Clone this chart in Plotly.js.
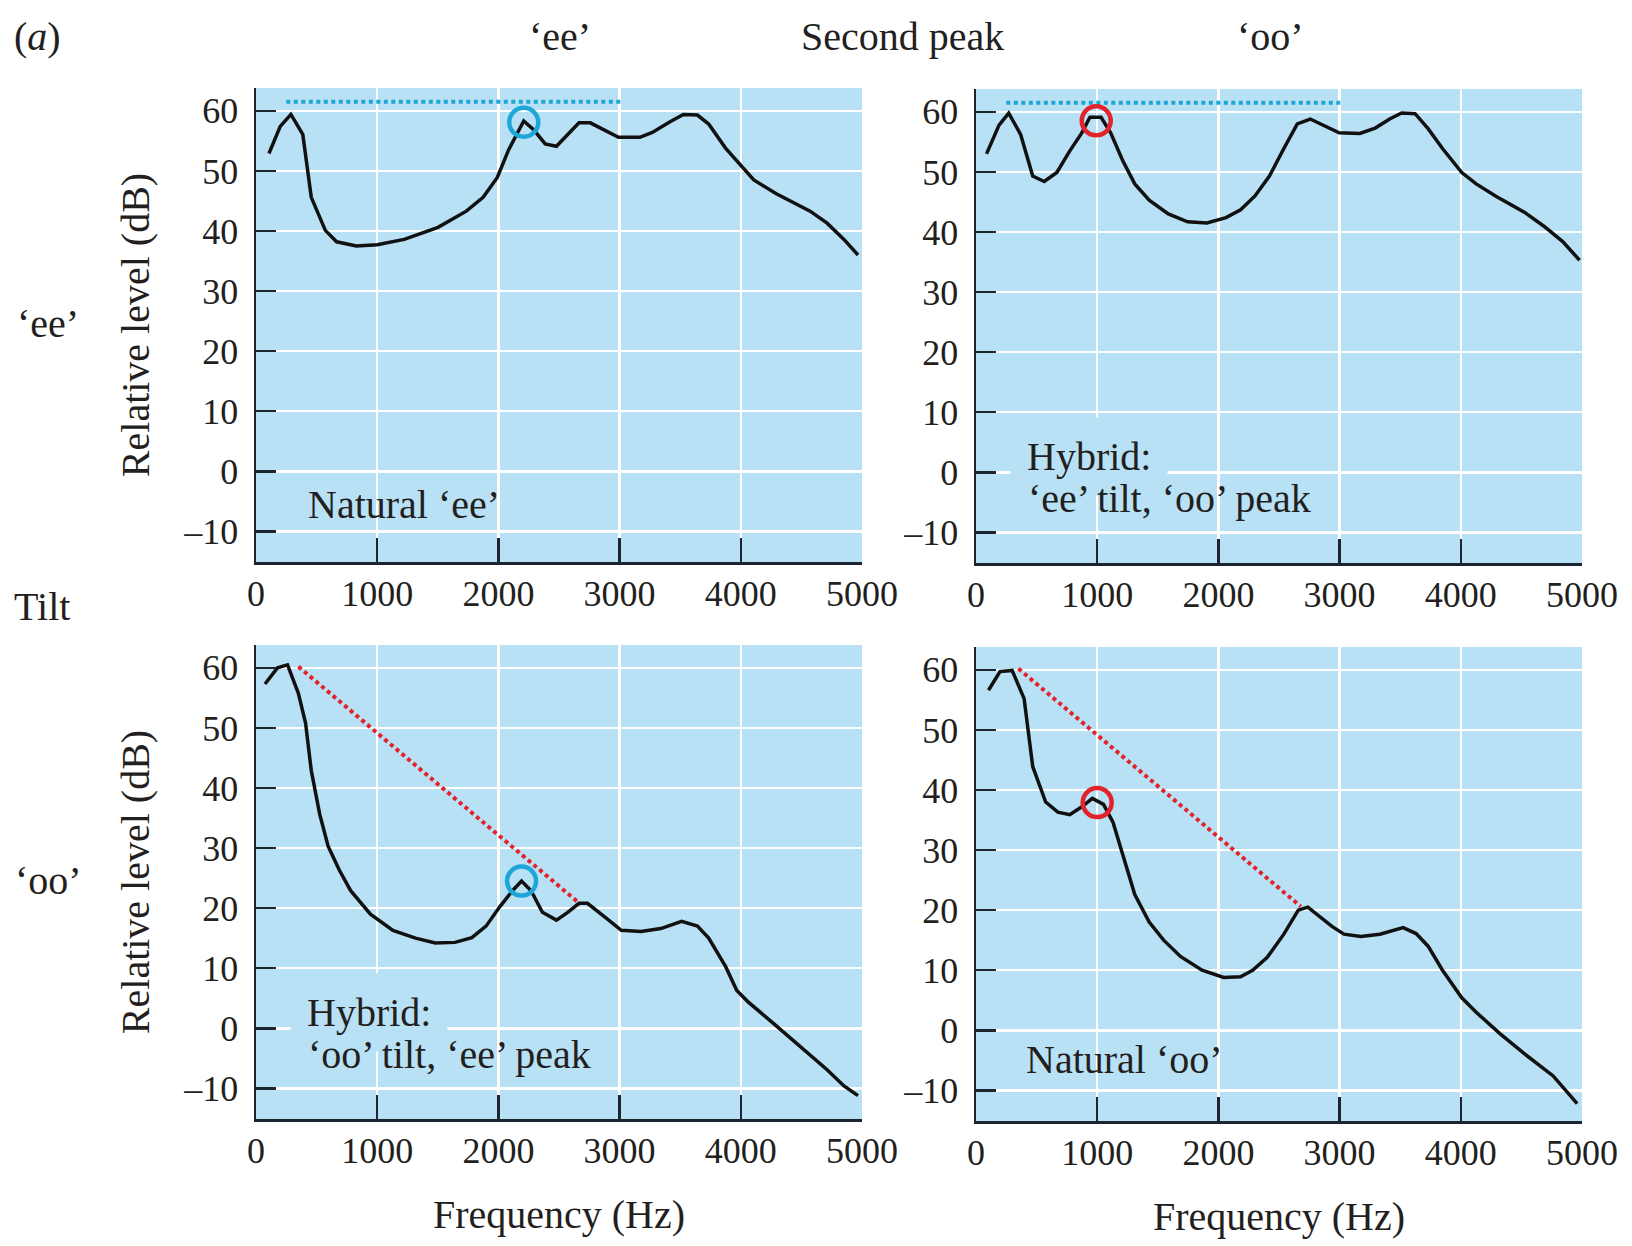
<!DOCTYPE html>
<html>
<head>
<meta charset="utf-8">
<script src="https://cdn.plot.ly/plotly-3.0.1.min.js"></script>
<style>
  html, body { margin: 0; padding: 0; background: #ffffff; }
  #chart { width: 1632px; height: 1246px; }
</style>
</head>
<body>
<div id="chart"></div>
<script>
// Spectra of natural and hybrid vowels: relative level (dB) against frequency (Hz)

// Natural 'ee'
const eeFreq  = [107, 200, 288, 386, 456, 572, 665, 828, 1000, 1223, 1502, 1735, 1874, 1991, 2084, 2209, 2293, 2386, 2479, 2572, 2665, 2758, 2874, 2991, 3167, 3270, 3409, 3526, 3642, 3735, 3874, 4014, 4107, 4293, 4572, 4712, 4851, 4967];
const eeLevel = [52.9, 57.4, 59.4, 56.1, 45.6, 40.1, 38.2, 37.5, 37.7, 38.6, 40.6, 43.3, 45.6, 48.9, 53.5, 58.3, 56.8, 54.5, 54.1, 56.1, 58.0, 58.0, 56.8, 55.6, 55.6, 56.4, 58.1, 59.4, 59.3, 57.8, 53.8, 50.5, 48.5, 46.2, 43.3, 41.3, 38.6, 36.0];

// Hybrid: 'ee' tilt, 'oo' peak
const eeTiltOoPeakFreq  = [87, 190, 270, 369, 468, 563, 667, 774, 873, 940, 1032, 1111, 1210, 1310, 1429, 1587, 1746, 1905, 2063, 2183, 2302, 2421, 2540, 2651, 2758, 2877, 2996, 3167, 3294, 3413, 3512, 3623, 3730, 3849, 4008, 4127, 4286, 4524, 4683, 4841, 4980];
const eeTiltOoPeakLevel = [53.0, 57.8, 59.8, 56.2, 49.3, 48.4, 49.9, 53.5, 56.5, 59.1, 59.1, 56.5, 51.9, 48.0, 45.3, 43.0, 41.7, 41.5, 42.4, 43.7, 46.0, 49.3, 53.9, 58.0, 58.8, 57.7, 56.5, 56.4, 57.3, 58.8, 59.8, 59.7, 57.2, 53.9, 49.9, 48.0, 46.0, 43.3, 41.0, 38.4, 35.3];

// Hybrid: 'oo' tilt, 'ee' peak
const ooTiltEePeakFreq  = [74, 177, 260, 349, 409, 456, 526, 595, 688, 781, 944, 1130, 1316, 1479, 1642, 1781, 1898, 2014, 2116, 2191, 2270, 2363, 2479, 2572, 2665, 2735, 2874, 3014, 3177, 3340, 3512, 3642, 3735, 3874, 3967, 4060, 4293, 4526, 4712, 4851, 4967];
const ooTiltEePeakLevel = [57.3, 60.0, 60.5, 55.8, 50.8, 42.9, 35.6, 30.3, 26.3, 22.9, 19.0, 16.3, 15.0, 14.2, 14.3, 15.1, 17.0, 20.3, 22.9, 24.5, 22.9, 19.3, 18.0, 19.3, 20.8, 20.8, 18.6, 16.3, 16.1, 16.6, 17.8, 17.0, 15.0, 10.3, 6.3, 4.4, 0.4, -3.6, -6.9, -9.6, -11.2];

// Natural 'oo'
const ooFreq  = [103, 198, 298, 397, 468, 575, 675, 774, 873, 960, 1052, 1131, 1210, 1310, 1429, 1548, 1687, 1865, 2044, 2183, 2282, 2401, 2540, 2659, 2738, 2817, 2937, 3036, 3175, 3333, 3524, 3631, 3730, 3849, 4008, 4127, 4325, 4524, 4762, 4960];
const ooLevel = [56.6, 59.7, 59.9, 55.2, 43.9, 38.0, 36.3, 35.9, 37.2, 38.6, 37.6, 34.6, 29.3, 22.6, 18.0, 15.0, 12.3, 10.0, 8.8, 8.9, 10.0, 12.1, 16.0, 20.0, 20.5, 19.3, 17.3, 16.0, 15.6, 16.0, 17.1, 16.1, 14.0, 10.0, 5.4, 3.0, -0.6, -3.9, -7.6, -12.2];

// Spectral tilt guides: flat 'ee' tilt and falling 'oo' tilt
const eeTiltFreq  = [250, 3010];
const eeTiltLevel = [61.5, 61.5];
const ooTiltFreq  = [350, 2680];
const ooTiltLevel = [60.2, 20.6];

// Second-peak markers [frequency, level]
const eePeakInEe = [2209, 58.1];
const ooPeakInHybrid = [992, 58.5];
const eePeakInHybrid = [2191, 24.5];
const ooPeakInOo = [1000, 37.9];

// Axis ticks
const freqTicks  = [0, 1000, 2000, 3000, 4000, 5000];
const levelTicks = [-10, 0, 10, 20, 30, 40, 50, 60];

const W = 1632, H = 1246;
const BG = '#b9e1f6';
const INK = '#231f20';
const AXIS = '#1d2630';
const CYAN = '#1fa6d8';
const RED = '#e3232c';
const SERIF = '"Liberation Serif", "Times New Roman", serif';

function spectrum(x, y, n) {
  return { x: x, y: y, xaxis: 'x' + n, yaxis: 'y' + n, type: 'scatter', mode: 'lines',
           line: { color: '#111111', width: 3.5 }, hoverinfo: 'x+y', showlegend: false };
}
function guide(x, y, n, color) {
  return { x: x, y: y, xaxis: 'x' + n, yaxis: 'y' + n, type: 'scatter', mode: 'lines',
           line: { color: color, width: 4, dash: '4px,3.5px' }, hoverinfo: 'skip', showlegend: false };
}
function ring(p, n, color) {
  return { x: [p[0]], y: [p[1]], xaxis: 'x' + n, yaxis: 'y' + n, type: 'scatter', mode: 'markers',
           marker: { symbol: 'circle-open', size: 29, color: color, line: { width: 4.5, color: color } },
           hoverinfo: 'x+y', showlegend: false };
}

const data = [
  guide(eeTiltFreq, eeTiltLevel, '', CYAN),
  spectrum(eeFreq, eeLevel, ''),
  ring(eePeakInEe, '', CYAN),

  guide(eeTiltFreq, eeTiltLevel, '2', CYAN),
  spectrum(eeTiltOoPeakFreq, eeTiltOoPeakLevel, '2'),
  ring(ooPeakInHybrid, '2', RED),

  guide(ooTiltFreq, ooTiltLevel, '3', RED),
  spectrum(ooTiltEePeakFreq, ooTiltEePeakLevel, '3'),
  ring(eePeakInHybrid, '3', CYAN),

  guide(ooTiltFreq, ooTiltLevel, '4', RED),
  spectrum(ooFreq, ooLevel, '4'),
  ring(ooPeakInOo, '4', RED)
];

// plot-area boxes in pixels: [left, right, top, bottom]
const boxes = [
  [256, 862, 88, 562],
  [976, 1582, 89, 563],
  [256, 862, 645, 1119],
  [976, 1582, 647, 1121]
];

function xAxis(b, n, withTitle) {
  const a = {
    domain: [b[0] / W, b[1] / W], anchor: 'y' + n, range: [0, 5000],
    tickmode: 'array', tickvals: freqTicks, ticktext: freqTicks.map(String),
    ticks: 'inside', ticklen: 24, tickwidth: 2.5, tickcolor: AXIS,
    showline: true, linecolor: AXIS, linewidth: 2.5,
    showgrid: true, gridcolor: '#ffffff', gridwidth: 2.5, zeroline: false,
    ticklabelstandoff: -2,
    tickfont: { family: SERIF, size: 36, color: INK }, fixedrange: true
  };
  if (withTitle) a.title = { text: 'Frequency (Hz)', standoff: 31, font: { family: SERIF, size: 40, color: INK } };
  return a;
}
function yAxis(b, n, withTitle) {
  const a = {
    domain: [1 - b[3] / H, 1 - b[2] / H], anchor: 'x' + n, range: [-15.1, 63.8],
    tickmode: 'array', tickvals: levelTicks, ticktext: levelTicks.map(v => v < 0 ? '\u2013' + Math.abs(v) : String(v)),
    ticks: 'inside', ticklen: 20, tickwidth: 2.5, tickcolor: AXIS,
    showline: true, linecolor: AXIS, linewidth: 2.5,
    showgrid: true, gridcolor: '#ffffff', gridwidth: 2.5, zeroline: false,
    ticklabelstandoff: 8,
    tickfont: { family: SERIF, size: 36, color: INK }, fixedrange: true
  };
  if (withTitle) a.title = { text: 'Relative level (dB)', standoff: 22, font: { family: SERIF, size: 40, color: INK } };
  return a;
}

function paperText(text, px, py, size) {
  return { xref: 'paper', yref: 'paper', x: px / W, y: 1 - py / H, text: text, showarrow: false,
           xanchor: 'center', yanchor: 'middle', font: { family: SERIF, size: size || 40, color: INK } };
}
function panelText(text, n, x, y, boxed) {
  const a = { xref: 'x' + n, yref: 'y' + n, x: x, y: y, text: text, showarrow: false,
              xanchor: 'left', yanchor: 'middle', font: { family: SERIF, size: 40, color: INK } };
  if (boxed) { a.bgcolor = BG; a.borderpad = 16; a.xshift = -17; }
  return a;
}

const annotations = [
  paperText('(<i>a</i>)', 37, 36),
  paperText('\u2018ee\u2019', 560, 36),
  paperText('Second peak', 902, 36),
  paperText('\u2018oo\u2019', 1270, 36),
  paperText('\u2018ee\u2019', 48, 323),
  paperText('Tilt', 42, 606),
  paperText('\u2018oo\u2019', 48, 880),

  panelText('Natural \u2018ee\u2019', '', 410, -5.6),
  panelText('Hybrid:', '2', 420, 2.6, true),
  panelText('\u2018ee\u2019 tilt, \u2018oo\u2019 peak', '2', 410, -4.4),
  panelText('Hybrid:', '3', 420, 2.6, true),
  panelText('\u2018oo\u2019 tilt, \u2018ee\u2019 peak', '3', 410, -4.4),
  panelText('Natural \u2018oo\u2019', '4', 400, -4.8)
];

const layout = {
  width: W, height: H,
  margin: { l: 0, r: 0, t: 0, b: 0 },
  paper_bgcolor: '#ffffff', plot_bgcolor: BG,
  showlegend: false,
  xaxis:  xAxis(boxes[0], '', false),  yaxis:  yAxis(boxes[0], '', true),
  xaxis2: xAxis(boxes[1], '2', false), yaxis2: yAxis(boxes[1], '2', false),
  xaxis3: xAxis(boxes[2], '3', true),  yaxis3: yAxis(boxes[2], '3', true),
  xaxis4: xAxis(boxes[3], '4', true),  yaxis4: yAxis(boxes[3], '4', false),
  annotations: annotations
};

Plotly.newPlot('chart', data, layout, { staticPlot: true, displayModeBar: false });
</script>
</body>
</html>
